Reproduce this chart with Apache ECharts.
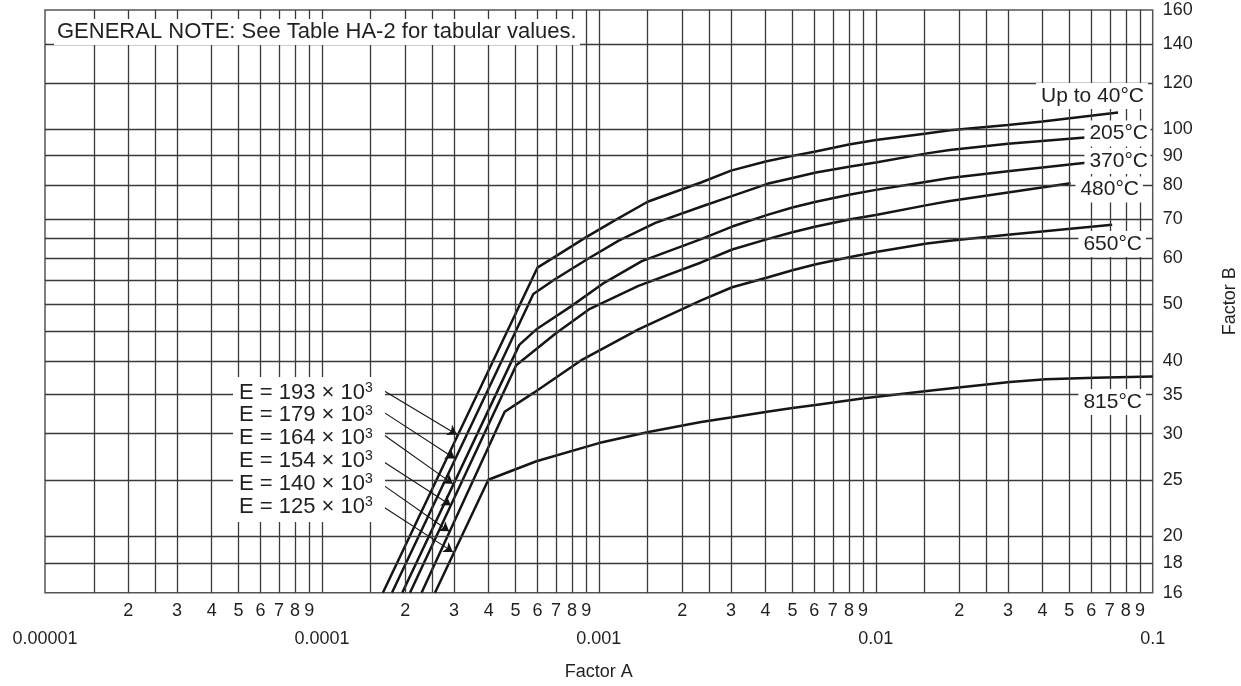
<!DOCTYPE html>
<html><head><meta charset="utf-8">
<script src="https://cdn.jsdelivr.net/npm/echarts@6/dist/echarts.min.js"></script>
<style>html,body{margin:0;padding:0;background:#fff}#c{width:1241px;height:686px}</style>
</head><body><div id="c"></div>
<script>
// ---------- data ----------
const curveNames = ['Up to 40°C', '205°C', '370°C', '480°C', '650°C', '815°C'];
const eValues = ['193', '179', '164', '154', '140', '125'];
const noteText = 'GENERAL NOTE: See Table HA-2 for tabular values.';

const curve40 = [[1.66e-4,16],[6.0e-4,57.8],[7.0e-4,60.5],[9.0e-4,65.2],[1.15e-3,69.8],[1.5e-3,75.0],[2.35e-3,81.0],[3.0e-3,84.8],[4.0e-3,87.9],[5.0e-3,89.9],[6.0e-3,91.4],[8.0e-3,94.0],[0.01,95.7],[0.015,98.1],[0.0185,99.5],[0.03,101.6],[0.04,103.0],[0.075,106.7]];
const curve205 = [[1.79e-4,16],[5.8e-4,52.1],[6.9e-4,55.1],[9.2e-4,60.0],[1.18e-3,64.3],[1.6e-3,69.0],[2.35e-3,73.6],[3.0e-3,76.6],[4.06e-3,80.5],[5.0e-3,82.4],[6.08e-3,84.2],[8.1e-3,86.2],[0.01,87.6],[0.0153,90.8],[0.0185,92.0],[0.03,94.3],[0.0585,96.8]];
const curve370 = [[1.95e-4,16],[5.16e-4,42.6],[5.95e-4,45.3],[7.93e-4,49.6],[1.03e-3,54.2],[1.43e-3,59.3],[2.34e-3,64.7],[3.03e-3,68.0],[4.06e-3,71.2],[5.0e-3,73.3],[6.08e-3,75.0],[8.1e-3,77.2],[0.01,78.6],[0.0153,81.2],[0.0185,82.4],[0.03,84.6],[0.0574,87.5]];
const curve480 = [[2.08e-4,16],[5.03e-4,39.3],[7.0e-4,44.6],[9.2e-4,49.0],[1.39e-3,53.8],[2.34e-3,59.0],[3.03e-3,62.1],[4.06e-3,64.7],[5.0e-3,66.5],[6.08e-3,68.0],[8.1e-3,70.0],[0.01,71.2],[0.0153,74.0],[0.0185,75.2],[0.03,77.8],[0.0505,80.7]];
const curve650 = [[2.29e-4,16],[4.57e-4,32.7],[5.79e-4,35.2],[8.72e-4,40.2],[1.39e-3,45.3],[2.34e-3,50.8],[3.03e-3,53.5],[4.06e-3,55.6],[5.0e-3,57.2],[6.08e-3,58.6],[8.1e-3,60.3],[0.01,61.5],[0.0153,63.6],[0.0185,64.3],[0.03,65.8],[0.0714,68.5]];
const curve815 = [[2.56e-4,16],[3.99e-4,25.0],[5.95e-4,26.9],[1.0e-3,28.9],[1.51e-3,30.2],[2.34e-3,31.4],[3.03e-3,32.0],[4.05e-3,32.7],[5.0e-3,33.2],[6.06e-3,33.6],[9.06e-3,34.5],[0.0153,35.5],[0.0199,36.0],[0.0305,36.8],[0.0411,37.2],[0.0619,37.4],[0.1,37.6]];
const curves = [curve40, curve205, curve370, curve480, curve650, curve815];

// arrows from E labels to lines: [start, tip] in data units
const arrowStarts = [[1.68e-4,35.5],[1.68e-4,32.6],[1.68e-4,29.8],[1.68e-4,26.8],[1.68e-4,24.4],[1.68e-4,22.4]];
const arrowTips = [[3.07e-4,29.9],[3.02e-4,27.2],[2.97e-4,24.6],[2.92e-4,22.6],[2.88e-4,20.4],[2.97e-4,18.8]];

// axes
const xDecades = [1e-5, 1e-4, 1e-3, 1e-2, 1e-1];
const xDecadeLabels = ['0.00001', '0.0001', '0.001', '0.01', '0.1'];
const xGridMantissas = [1, 1.5, 2, 2.5, 3, 4, 5, 6, 7, 8, 9];
const xMinorLabelMantissas = [2, 3, 4, 5, 6, 7, 8, 9];
const yGridValues = [18, 20, 25, 30, 35, 40, 45, 50, 55, 60, 65, 70, 80, 90, 100, 120, 140];
const yTickLabels = [16, 18, 20, 25, 30, 35, 40, 50, 60, 70, 80, 90, 100, 120, 140, 160];
const xMin = 1e-5, xMax = 0.1, yMin = 16, yMax = 160;

// ---------- chart ----------
const FONT = '"Liberation Sans", Arial, sans-serif';
const INK = '#231f20';

const xGridValues = [];
xDecades.slice(0, 4).forEach(d => xGridMantissas.forEach(m => {
  const v = m * d; if (v > xMin * 1.0001) xGridValues.push(v);
}));
const xMinorLabelLogs = [];
xDecades.slice(0, 4).forEach(d => xMinorLabelMantissas.forEach(m => xMinorLabelLogs.push(Math.log10(m * d))));

const gridSeries = {
  type: 'line', xAxisIndex: 0, yAxisIndex: 0, data: [[xMin, yMin]], symbol: 'none',
  lineStyle: { width: 0 }, silent: true, z: 1, animation: false,
  markLine: {
    silent: true, symbol: ['none', 'none'], animation: false, precision: 12,
    label: { show: false },
    lineStyle: { color: '#3a3a3a', width: 1.3, type: 'solid' },
    emphasis: { disabled: true },
    data: [
      ...xGridValues.map(v => [{ coord: [v, yMin] }, { coord: [v, yMax] }]),
      ...yGridValues.map(v => [{ coord: [xMin, v] }, { coord: [xMax, v] }])
    ]
  }
};

const curveSeries = curves.map((d, i) => ({
  name: curveNames[i], type: 'line', xAxisIndex: 0, yAxisIndex: 0, data: d,
  showSymbol: false, symbol: 'none', z: 3, animation: false,
  lineStyle: { color: '#151515', width: 2.5 },
  markLine: {
    silent: true, animation: false, symbol: ['none', 'arrow'], symbolSize: 9, precision: 12,
    label: { show: false }, emphasis: { disabled: true },
    lineStyle: { color: '#151515', width: 1.1, type: 'solid' },
    data: [[{ coord: arrowStarts[i] }, { coord: arrowTips[i] }]]
  }
}));

// label boxes (pixel layout)
const tempLabelLayout = [
  { right: 1144, y: 96 }, { right: 1148, y: 133.5 }, { right: 1148, y: 161 },
  { right: 1139, y: 189.5 }, { right: 1142, y: 244 }, { right: 1142, y: 402 }
];
const graphics = [];
graphics.push({ type: 'rect', shape: { x: 54, y: 19, width: 526, height: 26 }, style: { fill: '#fff' }, z: 99, silent: true });
graphics.push({ type: 'text', x: 57, y: 32, style: { text: noteText, font: `22px ${FONT}`, fill: INK, align: 'left', verticalAlign: 'middle' }, z: 100, silent: true });
const tmpCanvas = document.createElement('canvas').getContext('2d');
tempLabelLayout.forEach((p, i) => {
  tmpCanvas.font = `21px ${FONT}`;
  const w = tmpCanvas.measureText(curveNames[i]).width;
  graphics.push({ type: 'rect', shape: { x: p.right - w - 5, y: p.y - 13, width: Math.min(w + 9, 1150.5 - (p.right - w - 5)), height: 26 }, style: { fill: '#fff' }, z: 99, silent: true });
  graphics.push({ type: 'text', x: p.right, y: p.y, style: { text: curveNames[i], font: `21px ${FONT}`, fill: INK, align: 'right', verticalAlign: 'middle' }, z: 100, silent: true });
});
graphics.push({ type: 'rect', shape: { x: 233, y: 377, width: 152, height: 145 }, style: { fill: '#fff' }, z: 99, silent: true });
eValues.forEach((ev, i) => {
  graphics.push({ type: 'text', x: 239, y: 392.5 + i * 22.85, z: 100, silent: true,
    style: { text: `E = ${ev} × 10{s|3}`, font: `22px ${FONT}`, fill: INK, align: 'left', verticalAlign: 'middle',
      rich: { s: { fontSize: 14, fontFamily: FONT, fill: INK, padding: [0, 0, 9, 0] } } } });
});

const hiddenAxisBits = { axisLine: { show: false, onZero: false }, axisTick: { show: false }, splitLine: { show: false }, minorTick: { show: false }, minorSplitLine: { show: false } };

const option = {
  backgroundColor: '#fff',
  animation: false,
  grid: { left: 45, right: 88.3, top: 10, bottom: 93.3, show: true, borderColor: '#555', borderWidth: 1.5,
    backgroundColor: 'transparent', containLabel: false, outerBoundsMode: 'none' },
  xAxis: [
    Object.assign({ type: 'log', logBase: 10, min: xMin, max: xMax, position: 'bottom',
      axisLabel: { show: false },
      name: 'Factor A', nameLocation: 'middle', nameGap: 70,
      nameTextStyle: { fontSize: 18, fontFamily: FONT, color: INK } }, hiddenAxisBits),
    Object.assign({ type: 'value', min: Math.log10(xMin), max: Math.log10(xMax), position: 'bottom',
      axisLabel: { show: true, customValues: xMinorLabelLogs, margin: 9, fontSize: 18, fontFamily: FONT, color: INK,
        hideOverlap: false,
        formatter: v => String(Math.round(Math.pow(10, v - Math.floor(v + 1e-9)))) } }, hiddenAxisBits),
    Object.assign({ type: 'value', min: Math.log10(xMin), max: Math.log10(xMax), position: 'bottom',
      axisLabel: { show: true, customValues: xDecades.map(Math.log10), margin: 37, fontSize: 18, fontFamily: FONT, color: INK,
        hideOverlap: false, showMinLabel: true, showMaxLabel: true,
        formatter: v => xDecadeLabels[Math.round(v) + 5] } }, hiddenAxisBits)
  ],
  yAxis: [
    Object.assign({ type: 'log', logBase: 10, min: yMin, max: yMax, position: 'right',
      axisLabel: { show: false },
      name: 'Factor B', nameLocation: 'middle', nameGap: 68, nameRotate: 90,
      nameTextStyle: { fontSize: 18, fontFamily: FONT, color: INK } }, hiddenAxisBits),
    Object.assign({ type: 'value', min: Math.log10(yMin), max: Math.log10(yMax), position: 'right',
      axisLabel: { show: true, customValues: yTickLabels.map(Math.log10), margin: 10, fontSize: 18, fontFamily: FONT, color: INK,
        hideOverlap: false, showMinLabel: true, showMaxLabel: true,
        formatter: v => String(Math.round(Math.pow(10, v))) } }, hiddenAxisBits)
  ],
  series: [gridSeries, ...curveSeries],
  graphic: graphics
};

const chart = echarts.init(document.getElementById('c'), null, { renderer: 'canvas' });
chart.setOption(option);
</script>
</body></html>
